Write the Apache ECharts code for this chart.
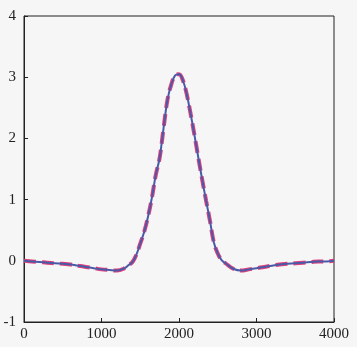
<!DOCTYPE html>
<html>
<head>
<meta charset="utf-8">
<script src="https://cdn.jsdelivr.net/npm/echarts@6/dist/echarts.min.js"></script>
<style>
html,body{margin:0;padding:0;background:#f6f6f6;}
#c{width:357px;height:347px;}
</style>
</head>
<body>
<div id="c"></div>
<script>
var xs = [0,100,200,300,400,500,600,700,800,900,1000,1100,1200,1300,1350,1400,1450,1500,1550,1600,1650,1700,1750,1800,1850,1900,1950,2000,2050,2100,2150,2200,2250,2300,2350,2400,2450,2500,2550,2600,2700,2800,2900,3000,3100,3200,3300,3400,3500,3600,3700,3800,3900,4000];
var dashedVals = [0.00,-0.01,-0.02,-0.03,-0.04,-0.05,-0.06,-0.08,-0.10,-0.12,-0.14,-0.15,-0.16,-0.12,-0.07,-0.02,0.10,0.28,0.47,0.72,1.03,1.40,1.68,2.16,2.62,2.88,3.03,3.05,2.95,2.72,2.40,2.05,1.68,1.32,0.98,0.65,0.30,0.12,0.01,-0.04,-0.13,-0.16,-0.14,-0.12,-0.10,-0.08,-0.06,-0.05,-0.04,-0.03,-0.02,-0.01,-0.01,0.00];
var solidVals = dashedVals.slice();
var xTicks = [0,1000,2000,3000,4000];
var yTicks = [-1,0,1,2,3,4];

function pairs(v){ return xs.map(function(x,i){ return [x, v[i]]; }); }

var chart = echarts.init(document.getElementById('c'), null, {renderer:'canvas'});
var font = '"Liberation Serif","Times New Roman",serif';
chart.setOption({
  backgroundColor:'#f6f6f6',
  animation:false,
  grid:{left:24,right:23,top:16,bottom:25,show:true,borderColor:'#222',borderWidth:1,backgroundColor:'transparent'},
  xAxis:{type:'value',min:0,max:4000,interval:1000,
    axisLine:{show:true,onZero:false,lineStyle:{color:'#222',width:1}},
    axisTick:{show:true,inside:true,length:4,lineStyle:{color:'#222'}},
    splitLine:{show:false},
    axisLabel:{color:'#222',fontFamily:font,fontSize:15,margin:5,
      formatter:function(v){return xTicks.indexOf(v)>=0?String(v):'';}}
  },
  yAxis:{type:'value',min:-1,max:4,interval:1,
    axisLine:{show:true,onZero:false,lineStyle:{color:'#222',width:1}},
    axisTick:{show:true,inside:true,length:4,lineStyle:{color:'#222'}},
    splitLine:{show:false},
    axisLabel:{color:'#222',fontFamily:font,fontSize:15,margin:8,
      formatter:function(v){return yTicks.indexOf(v)>=0?String(v):'';}}
  },
  series:[
    {type:'line',data:pairs(dashedVals),smooth:0.4,showSymbol:false,
      lineStyle:{color:'#e0407c',width:4,type:[12,6]}},
    {type:'line',data:pairs(solidVals),smooth:0.4,showSymbol:false,
      lineStyle:{color:'#4a5aa6',width:2}}
  ]
});
</script>
</body>
</html>
